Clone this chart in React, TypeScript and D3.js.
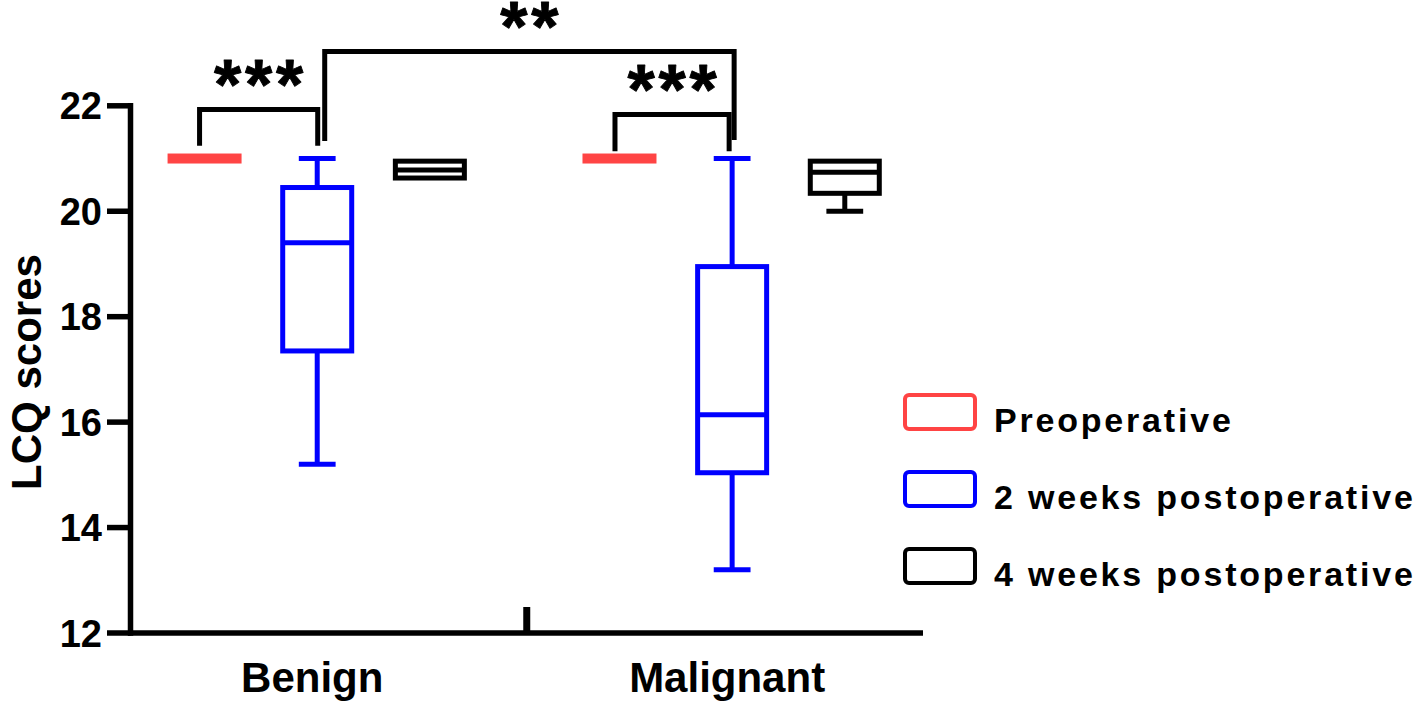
import React from 'react';
import * as d3 from 'd3';

// Category / series data
const groups = ['Benign', 'Malignant'];
const seriesNames = ['Preoperative', '2 weeks postoperative', '4 weeks postoperative'];
const seriesColors = ['#ff4444', '#0000ff', '#000000'];

// box stats per group: [min, q1, median, q3, max]
const preoperative = [
  [21, 21, 21, 21, 21],
  [21, 21, 21, 21, 21],
];
const weeks2 = [
  [15.2, 17.35, 19.4, 20.45, 21],
  [13.2, 15.04, 16.14, 18.95, 21],
];
const weeks4 = [
  [20.63, 20.63, 20.78, 20.95, 20.95],
  [20.0, 20.34, 20.74, 20.95, 20.95],
];
const allSeries = [preoperative, weeks2, weeks4];

const yTicks = [12, 14, 16, 18, 20, 22];

// significance brackets: [group, series] endpoints, bracket level and leg ends (in score units)
const comparisons = [
  { label: '***', from: [0, 0], to: [0, 1], level: 21.93, legEnds: [21.24, 21.24], shift: [-5, 0.5] },
  { label: '**', from: [0, 1], to: [1, 1], level: 23.03, legEnds: [21.33, 21.35], shift: [7.5, 2] },
  { label: '***', from: [1, 0], to: [1, 1], level: 21.835, legEnds: [21.14, 21.14], shift: [-4.5, -3] },
];

const W = 1418;
const H = 714;
const FONT = '"Liberation Sans", Arial, Helvetica, sans-serif';

export default function App() {
  const x = d3.scaleLinear().domain([-0.45, 1.46]).range([130.5, 923]);
  const y = d3.scaleLinear().domain([12, 22]).range([633, 105.8]);
  const slot = 0.2715; // distance between series inside a group, in group units
  const boxHalf = 34.5;
  const capHalf = 18.4;
  const sw = 5;
  const starSize = 70;
  const starGap = 3.8;

  const cx = (g: number, s: number) => x(g + (s - 1) * slot);

  return (
    <svg
      width={W}
      height={H}
      style={{ position: 'absolute', left: 0, top: 0, background: '#fff' }}
      fontFamily={FONT}
    >
      {/* boxes */}
      {allSeries.map((stats, s) =>
        stats.map((d, g) => {
          const [mn, q1, med, q3, mx] = d;
          const c = cx(g, s);
          const col = seriesColors[s];
          if (q3 - q1 < 0.01) {
            return (
              <rect key={`${s}-${g}`} x={c - boxHalf - sw / 2} y={y(med) - 5} width={boxHalf * 2 + sw} height={10} fill={col} />
            );
          }
          return (
            <g key={`${s}-${g}`} stroke={col} strokeWidth={sw} fill="none">
              {mx > q3 && <line x1={c} x2={c} y1={y(q3)} y2={y(mx)} />}
              {mx > q3 && <line x1={c - capHalf} x2={c + capHalf} y1={y(mx)} y2={y(mx)} />}
              {mn < q1 && <line x1={c} x2={c} y1={y(q1)} y2={y(mn)} />}
              {mn < q1 && <line x1={c - capHalf} x2={c + capHalf} y1={y(mn)} y2={y(mn)} />}
              <rect x={c - boxHalf} y={y(q3)} width={boxHalf * 2} height={y(q1) - y(q3)} fill="#fff" />
              <line x1={c - boxHalf} x2={c + boxHalf} y1={y(med)} y2={y(med)} />
            </g>
          );
        })
      )}

      {/* significance brackets */}
      {comparisons.map((cmp, i) => {
        const x1 = cx(cmp.from[0], cmp.from[1]) + cmp.shift[0];
        const x2 = cx(cmp.to[0], cmp.to[1]) + cmp.shift[1];
        const top = y(cmp.level);
        const path = `M${x1},${y(cmp.legEnds[0])}V${top}H${x2}V${y(cmp.legEnds[1])}`;
        return (
          <g key={i}>
            <path d={path} fill="none" stroke="#000" strokeWidth={sw} strokeLinejoin="miter" />
            <text
              x={(x1 + x2) / 2 + starGap / 2}
              y={top - 33.5 + 0.47 * starSize}
              textAnchor="middle"
              fontSize={starSize}
              fontWeight="bold"
              letterSpacing={starGap}
              stroke="#000"
              strokeWidth={0.9}
              strokeLinejoin="round"
            >
              {cmp.label}
            </text>
          </g>
        );
      })}

      {/* y axis */}
      <line x1={130.5} x2={130.5} y1={y(22) - 2.75} y2={y(12) + 2.75} stroke="#000" strokeWidth={5.5} />
      {yTicks.map((t) => (
        <g key={t}>
          <line x1={107} x2={130.5} y1={y(t)} y2={y(t)} stroke="#000" strokeWidth={5.5} />
          <text x={102} y={y(t)} dy="0.36em" textAnchor="end" fontSize={38} fontWeight="bold">
            {t}
          </text>
        </g>
      ))}
      <text
        transform={`translate(41, ${372}) rotate(-90)`}
        textAnchor="middle"
        fontSize={42}
        fontWeight="bold"
      >
        LCQ scores
      </text>

      {/* x axis */}
      <line x1={128} x2={923} y1={y(12)} y2={y(12)} stroke="#000" strokeWidth={5.5} />
      <line x1={(x.range()[0] + x.range()[1]) / 2} x2={(x.range()[0] + x.range()[1]) / 2} y1={607} y2={y(12)} stroke="#000" strokeWidth={7} />
      {groups.map((gname, g) => (
        <text key={gname} x={x(g) - 5} y={692} textAnchor="middle" fontSize={42} fontWeight="bold">
          {gname}
        </text>
      ))}

      {/* legend */}
      {seriesNames.map((name, i) => {
        const top = 395 + i * 77;
        return (
          <g key={name}>
            <rect x={905} y={top} width={70} height={34} rx={4} fill="none" stroke={seriesColors[i]} strokeWidth={4} />
            <text x={994} y={top + 17 + 19.7} fontSize={34} fontWeight="bold" letterSpacing={2.8}>
              {name}
            </text>
          </g>
        );
      })}
    </svg>
  );
}
